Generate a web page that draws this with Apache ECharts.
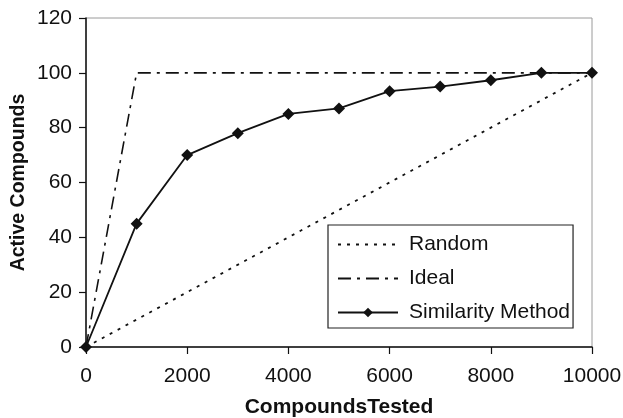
<!DOCTYPE html>
<html>
<head>
<meta charset="utf-8">
<script src="https://cdn.jsdelivr.net/npm/echarts@6/dist/echarts.min.js"></script>
<style>
html,body{margin:0;padding:0;background:#fff;}
#chart{width:623px;height:418px;}
</style>
</head>
<body>
<div id="chart"></div>
<script>
var xValues = [0, 1000, 2000, 3000, 4000, 5000, 6000, 7000, 8000, 9000, 10000];
var similarity = [0, 45, 70, 78, 85, 87, 93.3, 95, 97.3, 100, 100];
var randomX = [0, 10000];
var randomY = [0, 100];
var idealX = [0, 1000, 10000];
var idealY = [0, 100, 100];
var seriesNames = ['Random', 'Ideal', 'Similarity Method'];
var xTitle = 'CompoundsTested';
var yTitle = 'Active Compounds';

function pairs(xs, ys){ return xs.map(function(x,i){ return [x, ys[i]]; }); }

var FONT = '"Liberation Sans", Arial, sans-serif';
var chart = echarts.init(document.getElementById('chart'), null, {renderer:'canvas'});
chart.setOption({
  animation: false,
  backgroundColor: '#fff',
  textStyle: {fontFamily: FONT},
  grid: {left: 86, right: 31, top: 18, bottom: 71, show: true, borderColor: '#9a9a9a', borderWidth: 1,
         containLabel: false, outerBoundsMode: 'none'},
  xAxis: {
    type: 'value', min: 0, max: 10000, interval: 2000,
    name: xTitle, nameLocation: 'middle', nameGap: 50, nameMoveOverlap: false,
    nameTextStyle: {fontFamily: FONT, fontWeight: 'bold', fontSize: 21, color: '#111'},
    axisLine: {show: true, onZero: false, lineStyle: {color: '#111', width: 1.5}},
    axisTick: {show: true, inside: false, length: 7, lineStyle: {color: '#111', width: 1.2}},
    axisLabel: {fontFamily: FONT, fontSize: 21, color: '#111', margin: 19, formatter: function(v){ return String(v); }},
    splitLine: {show: false}
  },
  yAxis: {
    type: 'value', min: 0, max: 120, interval: 20,
    name: yTitle, nameLocation: 'middle', nameGap: 57, nameRotate: 90, nameMoveOverlap: false,
    nameTextStyle: {fontFamily: FONT, fontWeight: 'bold', fontSize: 19.5, color: '#111'},
    axisLine: {show: true, lineStyle: {color: '#111', width: 1.5}},
    axisTick: {show: true, inside: false, length: 7, lineStyle: {color: '#111', width: 1.2}},
    axisLabel: {fontFamily: FONT, fontSize: 21, color: '#111', margin: 14},
    splitLine: {show: false}
  },
  legend: {
    orient: 'vertical', left: 328, top: 225,
    padding: [9, 3, 5, 9],
    itemWidth: 60, itemHeight: 12, itemGap: 13,
    borderColor: '#222', borderWidth: 1.2, backgroundColor: '#fff',
    textStyle: {fontFamily: FONT, fontSize: 21, color: '#111', lineHeight: 21, padding: [0, 0, 0, 6]},
    data: [
      {name: seriesNames[0], itemStyle: {opacity: 0}},
      {name: seriesNames[1], itemStyle: {opacity: 0}},
      {name: seriesNames[2]}
    ]
  },
  series: [
    {
      name: seriesNames[0], type: 'line', data: pairs(randomX, randomY),
      symbol: 'none', lineStyle: {color: '#111', width: 1.8, type: [3, 6]},
      itemStyle: {color: '#111'}, z: 2
    },
    {
      name: seriesNames[1], type: 'line', data: pairs(idealX, idealY),
      symbol: 'none', lineStyle: {color: '#111', width: 1.6, type: [13, 6, 3, 6]},
      itemStyle: {color: '#111'}, z: 3
    },
    {
      name: seriesNames[2], type: 'line', data: pairs(xValues, similarity),
      symbol: 'diamond', symbolSize: 12, showSymbol: true,
      lineStyle: {color: '#111', width: 1.8, type: 'solid'},
      itemStyle: {color: '#111'}, z: 4
    }
  ]
});
</script>
</body>
</html>
